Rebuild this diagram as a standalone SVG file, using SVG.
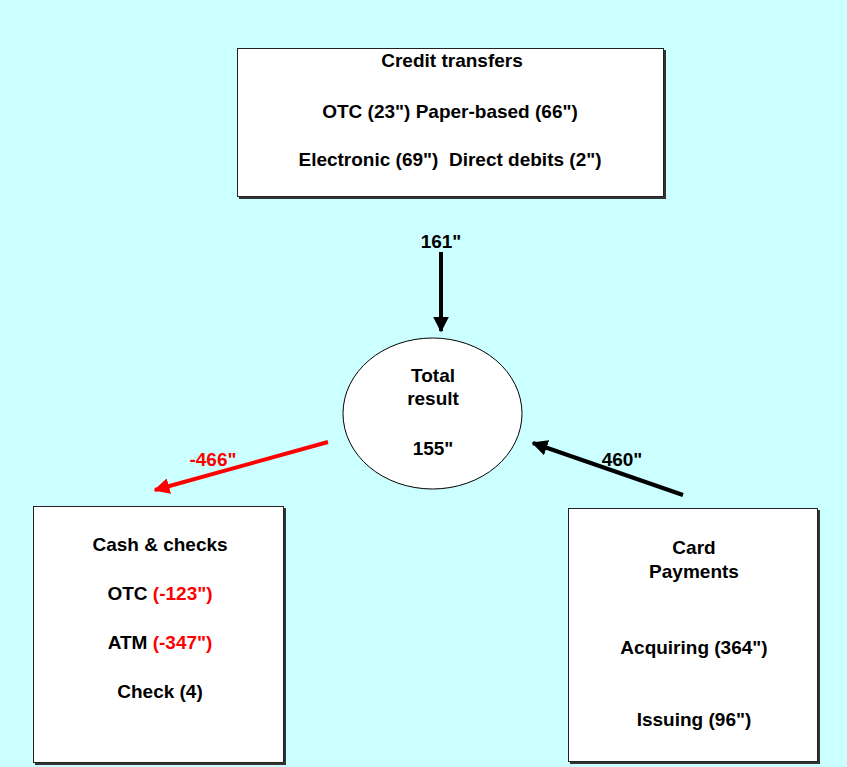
<svg xmlns="http://www.w3.org/2000/svg" width="847" height="767" viewBox="0 0 847 767">
<defs>
<style>
.bg{fill:#CCFFFF;}
.box{fill:#FFFFFF;stroke:#222;stroke-width:1;}
.sh{fill:#333;}
.t{font-family:"Liberation Sans",Arial,sans-serif;font-size:19px;font-weight:bold;fill:#000;text-anchor:middle;}
.r{fill:#FF0000;}
.blk{stroke:#000;stroke-width:4;fill:none;}
.red{stroke:#FF0000;stroke-width:4;fill:none;}
</style>
<marker id="ab" viewBox="0 0 10 10" refX="9" refY="5" markerWidth="4" markerHeight="4" markerUnits="strokeWidth" orient="auto"><path d="M0,0 L10,5 L0,10 z" fill="#000"/></marker>
<marker id="ar" viewBox="0 0 10 10" refX="9" refY="5" markerWidth="4" markerHeight="4" markerUnits="strokeWidth" orient="auto"><path d="M0,0 L10,5 L0,10 z" fill="#FF0000"/></marker>
</defs>
<rect class="bg" x="0" y="0" width="847" height="767"/>
<g id="credit">
<rect class="sh" x="239" y="50" width="427" height="149"/>
<rect class="box" x="237.5" y="48.5" width="426" height="148"/>
<text class="t" x="452" y="67">Credit transfers</text>
<text class="t" x="450" y="118">OTC (23") Paper-based (66")</text>
<text class="t" x="450" y="166" xml:space="preserve">Electronic (69")  Direct debits (2")</text>
</g>
<g id="total">
<ellipse cx="432.5" cy="413.5" rx="89.5" ry="75.5" fill="#FFFFFF" stroke="#000" stroke-width="1"/>
<text class="t" x="433" y="382">Total</text>
<text class="t" x="433" y="405">result</text>
<text class="t" x="433" y="455">155"</text>
</g>
<g id="cash">
<rect class="sh" x="35" y="508" width="251" height="257"/>
<rect class="box" x="33.5" y="506.5" width="250" height="256"/>
<text class="t" x="160" y="551">Cash &amp; checks</text>
<text class="t" x="160" y="600">OTC <tspan class="r">(-123")</tspan></text>
<text class="t" x="160" y="649">ATM <tspan class="r">(-347")</tspan></text>
<text class="t" x="160" y="698">Check (4)</text>
</g>
<g id="card">
<rect class="sh" x="570" y="510" width="250" height="254"/>
<rect class="box" x="568.5" y="508.5" width="249" height="253"/>
<text class="t" x="694" y="554">Card</text>
<text class="t" x="694" y="578">Payments</text>
<text class="t" x="694" y="654">Acquiring (364")</text>
<text class="t" x="694" y="726">Issuing (96")</text>
</g>
<g id="connectors">
<line class="blk" x1="441" y1="252" x2="441" y2="331" marker-end="url(#ab)"/>
<text class="t" x="441" y="248">161"</text>
<line class="red" x1="328" y1="442" x2="155" y2="490" marker-end="url(#ar)"/>
<text class="t r" x="213" y="466">-466"</text>
<line class="blk" x1="683" y1="495" x2="533" y2="443" marker-end="url(#ab)"/>
<text class="t" x="622" y="466">460"</text>
</g>
</svg>
